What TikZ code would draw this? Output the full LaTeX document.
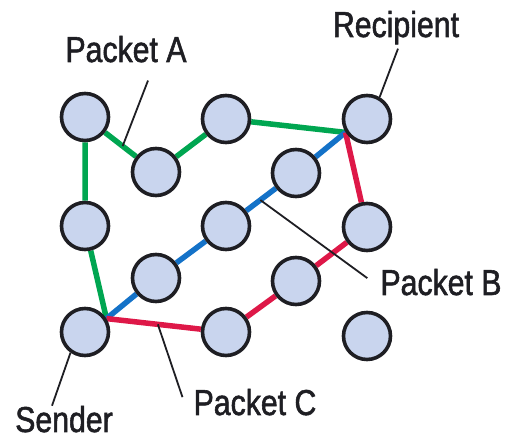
\documentclass[tikz,border=0pt]{standalone}
\usepackage{fontspec}
\setmainfont[FakeStretch=0.84, FakeBold=1.5]{Liberation Sans}
\usepackage{tikz}
\usetikzlibrary{calc}
\usetikzlibrary{backgrounds}
\definecolor{nodefill}{RGB}{201, 213, 238}
\definecolor{nodeline}{RGB}{30, 30, 35}
\definecolor{pgreen}{RGB}{0, 166, 81}
\definecolor{pblue}{RGB}{20, 114, 200}
\definecolor{pred}{RGB}{222, 24, 72}
\tikzset{hop/.style = {draw = nodeline, fill = nodefill, circle, line width = 3.6, minimum size = 47, inner sep = 0}}
\tikzset{lbl/.style = {font = \fontsize{36}{40}\selectfont, text = nodeline, inner sep = 2}}
\tikzset{route/.style = {line width = 5.5, line join = round}}
\tikzset{leader/.style = {draw = nodeline, line width = 1.8}}

\begin{document}
\begin{tikzpicture}[x = 1pt, y = 1pt]
      \useasboundingbox (0, 0) rectangle (506, 441);

      \node [hop] (tl) at (85, 324) {};
      \node [hop] (pa) at (156, 269) {};
      \node [hop] (tm) at (226, 322) {};
      \node [hop] (r) at (367, 322) {};
      \node [hop] (b3) at (296, 268) {};
      \node [hop] (ml) at (85, 215) {};
      \node [hop] (mm) at (226, 215) {};
      \node [hop] (mr) at (367, 214) {};
      \node [hop] (b1) at (156, 163) {};
      \node [hop] (c2) at (296, 160) {};
      \node [hop] (s) at (85, 109) {};
      \node [hop] (bm) at (226, 109) {};
      \node [hop] (br) at (367, 105) {};

      \coordinate (sout) at (s.32);
      \coordinate (rin) at (r.212);

      \begin{scope}[on background layer]
        \draw [route, pgreen] (sout) -- (ml) -- (tl) -- (pa) -- (tm) -- (rin);
        \draw [route, pblue] (sout) -- (b1) -- (mm) -- (b3) -- (rin);
        \draw [route, pred] (sout) -- (bm) -- (c2) -- (mr) -- (rin);
      \end{scope}

      \node [lbl, anchor = base] (recipient) at (396, 404) {Recipient};
      \node [lbl, anchor = base] (pktA) at (126, 379) {Packet A};
      \node [lbl, anchor = base] (pktB) at (441, 146) {Packet B};
      \node [lbl, anchor = base] (pktC) at (255, 26) {Packet C};
      \node [lbl, anchor = base] (sender) at (64, 9) {Sender};

      \coordinate (onA) at ($(tl)!0.53!(pa)$);
      \coordinate (onB) at ($(mm)!0.49!(b3)$);
      \coordinate (onC) at ($(sout)!0.43!(bm)$);

      \draw [leader] ([shift = {(2, -2)}]recipient.south) -- (r.60);
      \draw [leader] ([shift = {(22, -16)}]pktA.south) -- (onA);
      \draw [leader] ([shift = {(-11, 4)}]pktB.west) -- (onB);
      \draw [leader] ([shift = {(-9, 5)}]pktC.west) -- (onC);
      \draw [leader] ([shift = {(-12, -2)}]sender.north) -- (s.235);

    \end{tikzpicture}
\end{document}
